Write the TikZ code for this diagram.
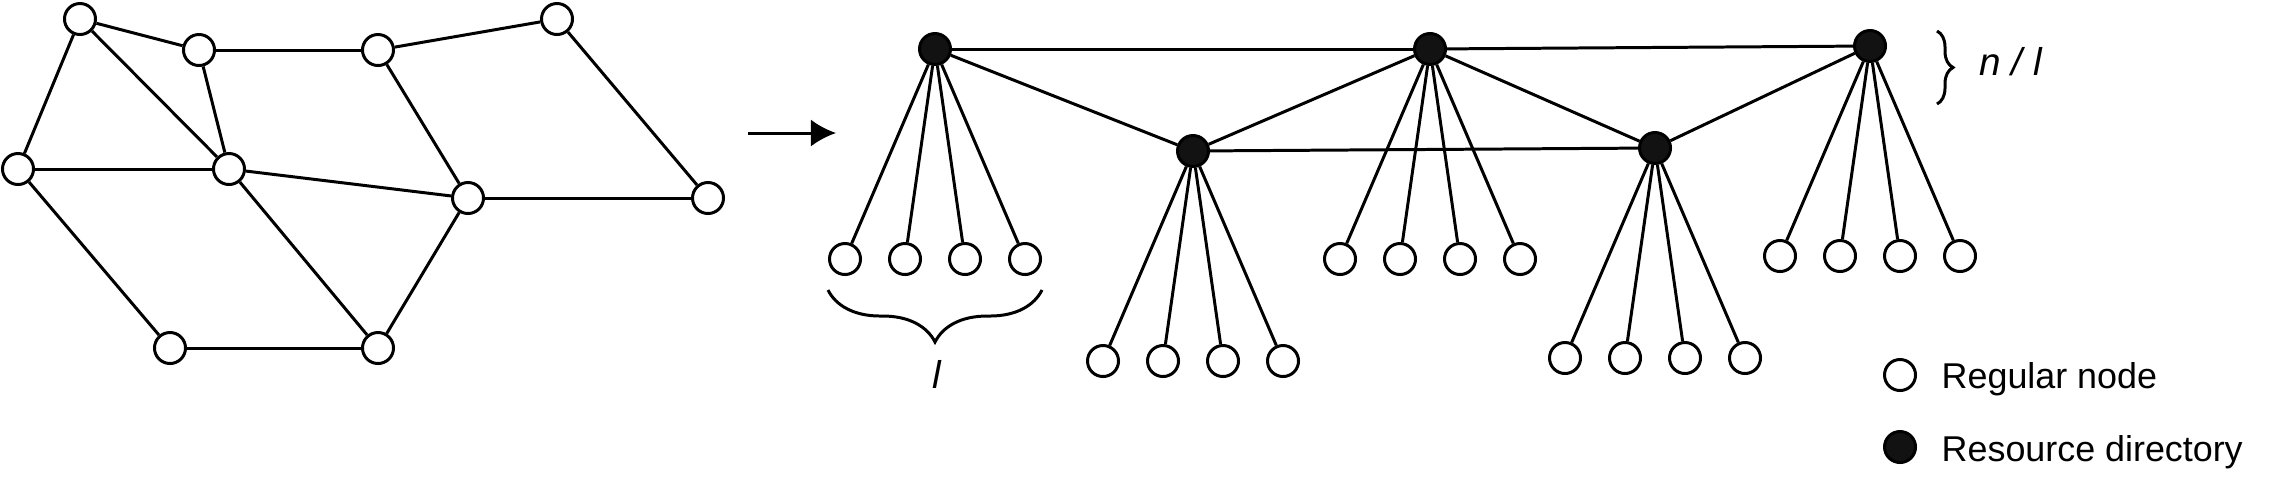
\documentclass[tikz,border=0pt]{standalone}
\usepackage{fontspec}
\setmainfont{Liberation Sans}
\usetikzlibrary{calc,decorations.pathreplacing,arrows.meta}

\begin{document}
\begin{tikzpicture}[x=0.01cm,y=-0.01cm,peer/.style={circle,draw,fill=white,line width=0.85pt,minimum size=0.31cm,inner sep=0pt},directory/.style={peer,fill=black!93},link/.style={line width=0.85pt},lbl/.style={inner sep=0pt,font=\fontsize{10.2}{12}\selectfont},mathlbl/.style={inner sep=0pt,font=\fontsize{11}{13}\selectfont\itshape},brc/.style={line width=0.85pt,decorate}]
      \useasboundingbox (0,0) rectangle (2279,487);

      % unstructured network
      \node[peer] (a) at (80,19) {};
      \node[peer] (b) at (199,50) {};
      \node[peer] (c) at (378,50) {};
      \node[peer] (d) at (557,19) {};
      \node[peer] (e) at (18,169) {};
      \node[peer] (f) at (229,169) {};
      \node[peer] (g) at (468,198) {};
      \node[peer] (h) at (708,198) {};
      \node[peer] (i) at (170,348) {};
      \node[peer] (j) at (378,348) {};

      \draw[link] (a) -- (b);
      \draw[link] (b) -- (c);
      \draw[link] (c) -- (d);
      \draw[link] (a) -- (e);
      \draw[link] (a) -- (f);
      \draw[link] (b) -- (f);
      \draw[link] (e) -- (f);
      \draw[link] (e) -- (i);
      \draw[link] (f) -- (g);
      \draw[link] (f) -- (j);
      \draw[link] (c) -- (g);
      \draw[link] (d) -- (h);
      \draw[link] (g) -- (h);
      \draw[link] (g) -- (j);
      \draw[link] (i) -- (j);

      \coordinate (from) at (748,133);
      \coordinate (to) at (836,133);
      \draw[link,-{Latex[length=0.25cm,width=0.27cm]}] (from) -- (to);

      % resource directories
      \node[directory] (rd1) at (935,49) {};
      \node[directory] (rd2) at (1430,49) {};
      \node[directory] (rd3) at (1870,46) {};
      \node[directory] (rd4) at (1193,151) {};
      \node[directory] (rd5) at (1655,148) {};

      \draw[link] (rd1) -- (rd2);
      \draw[link] (rd2) -- (rd3);
      \draw[link] (rd1) -- (rd4);
      \draw[link] (rd4) -- (rd2);
      \draw[link] (rd2) -- (rd5);
      \draw[link] (rd5) -- (rd3);
      \draw[link] (rd4) -- (rd5);

      \foreach \dir in {rd1,rd2,rd3,rd4,rd5}
        \foreach \k/\dx in {1/-90,2/-30,3/30,4/90} {
          \node[peer] (\dir-\k) at ($ (\dir) + (\dx,210) $) {};
          \draw[link] (\dir) -- (\dir-\k);
        }

      \draw[brc,decoration={brace,mirror,amplitude=0.52cm}] ($ (rd1-1.west) + (0,31) $) -- ($ (rd1-4.east) + (0,31) $);
      \node[mathlbl,anchor=base] (groupsize) at (937,388) {l};
      \draw[brc,decoration={brace,amplitude=0.16cm}] (1937,31) -- (1937,104);
      \node[mathlbl,anchor=base west] (groups) at (1979,75) {n / l};

      % legend
      \node[peer] (legpeer) at (1900,375) {};
      \node[directory] (legdir) at (1900,447) {};
      \node[lbl,anchor=base west] (legpeertext) at (1941,388) {Regular node};
      \node[lbl,anchor=base west] (legdirtext) at (1941,461) {Resource directory};
    \end{tikzpicture}
\end{document}
